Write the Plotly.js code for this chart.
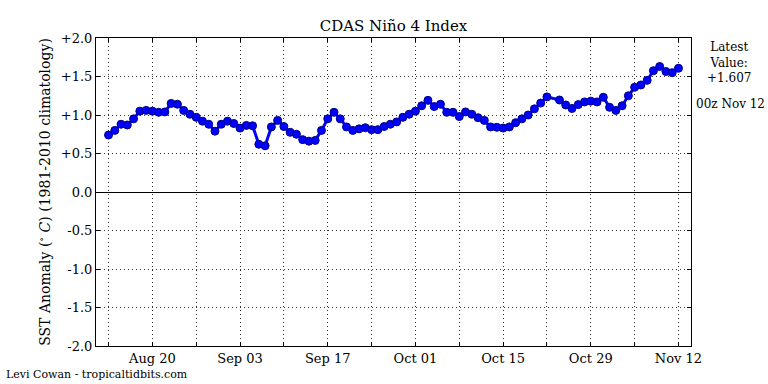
<!DOCTYPE html>
<html>
<head>
<meta charset="utf-8">
<script src="https://cdn.plot.ly/plotly-3.0.1.min.js"></script>
<style>html,body{margin:0;padding:0;background:#fff;}#chart{width:768px;height:384px;}</style>
</head>
<body>
<div id="chart"></div>
<script>
// Daily CDAS Niño 4 SST anomaly, starting 2015-08-13 (null = missing day)
const startDate = '2015-08-13';
const anomaly = [
  0.74, 0.80, 0.88, 0.87, 0.95, 1.05, 1.06, 1.05, 1.035, 1.04,
  1.15, 1.14, 1.06, 1.01, 0.97, 0.92, 0.88, 0.79, 0.88, 0.92,
  0.89, 0.83, 0.865, 0.86, 0.62, 0.60, 0.845, 0.93, 0.85, 0.775,
  0.75, 0.68, 0.66, 0.67, 0.80, 0.95, 1.035, 0.95, 0.845, 0.80,
  0.82, 0.835, 0.81, 0.81, 0.85, 0.88, 0.91, 0.97, 1.01, 1.05,
  1.12, 1.19, 1.11, 1.14, 1.035, 1.035, 0.98, 1.04, 1.01, 0.965,
  0.93, 0.845, 0.84, 0.83, 0.845, 0.90, 0.95, 1.00, 1.08, 1.155,
  1.235, null, 1.195, 1.13, 1.085, 1.135, 1.17, 1.18, 1.17, 1.23,
  1.10, 1.06, 1.12, 1.25, 1.36, 1.39, 1.45, 1.575, 1.63, 1.565,
  1.55, 1.607
];
const xTickVals = ['2015-08-13','2015-08-20','2015-08-27','2015-09-03','2015-09-10','2015-09-17','2015-09-24',
                   '2015-10-01','2015-10-08','2015-10-15','2015-10-22','2015-10-29','2015-11-05','2015-11-12'];
const xTickText = [' ','Aug 20',' ','Sep 03',' ','Sep 17',' ','Oct 01',' ','Oct 15',' ','Oct 29',' ','Nov 12'];
const yTickVals = [2.0, 1.5, 1.0, 0.5, 0.0, -0.5, -1.0, -1.5, -2.0];
const yTickText = ['+2.0','+1.5','+1.0','+0.5','0.0','-0.5','-1.0','-1.5','-2.0'];
const latestValue = '+1.607';
const latestTime = '00z Nov 12';

const dates = anomaly.map((_, i) => {
  const d = new Date(startDate + 'T00:00:00Z');
  d.setUTCDate(d.getUTCDate() + i);
  return d.toISOString().slice(0, 10);
});

const font = "'DejaVu Serif', 'Liberation Serif', serif";

const trace = {
  x: dates, y: anomaly, type: 'scatter', mode: 'lines+markers',
  connectgaps: true,
  line: {color: '#0000ff', width: 3},
  marker: {color: '#0000ff', size: 8, line: {color: '#000080', width: 1}},
  hoverinfo: 'skip'
};

const layout = {
  width: 768, height: 384,
  margin: {l: 96, r: 77, t: 38, b: 38, pad: 0},
  paper_bgcolor: '#fff', plot_bgcolor: '#fff',
  font: {family: font, color: '#000', size: 12},
  showlegend: false,
  title: {text: 'CDAS Niño 4 Index', font: {family: font, size: 15, color: '#000'},
          x: 0.5124, xanchor: 'center', y: 0.932, yanchor: 'middle'},
  xaxis: {
    type: 'date', range: ['2015-08-11', '2015-11-14'],
    tickmode: 'array', tickvals: xTickVals, ticktext: xTickText,
    ticks: 'inside', ticklen: 4, tickcolor: '#000', tickwidth: 1,
    showline: true, linecolor: '#000', linewidth: 1, mirror: 'ticks',
    showgrid: true, gridcolor: '#333', gridwidth: 1, griddash: '1px,3px',
    zeroline: false, tickfont: {family: font, size: 13}
  },
  yaxis: {
    range: [-2, 2], tickmode: 'array', tickvals: yTickVals, ticktext: yTickText,
    ticks: 'inside', ticklen: 4, tickcolor: '#000', tickwidth: 1,
    showline: true, linecolor: '#000', linewidth: 1, mirror: 'ticks',
    showgrid: true, gridcolor: '#333', gridwidth: 1, griddash: '1px,3px',
    zeroline: true, zerolinecolor: '#000', zerolinewidth: 1,
    tickfont: {family: font, size: 13},
    title: {text: 'SST Anomaly (<sup>∘</sup> <i>C</i>) (1981-2010 climatology)',
            font: {family: font, size: 14}, standoff: 6}
  },
  annotations: [
    {text: 'Latest<br>Value:<br>' + latestValue, xref: 'paper', yref: 'paper',
     x: 1.064, y: 1.0, xanchor: 'center', yanchor: 'top', showarrow: false,
     font: {family: font, size: 12}, align: 'center'},
    {text: latestTime, xref: 'paper', yref: 'paper',
     x: 1.066, y: 0.785, xanchor: 'center', yanchor: 'middle', showarrow: false,
     font: {family: font, size: 12}},
    {text: 'Levi Cowan - tropicaltidbits.com', xref: 'paper', yref: 'paper',
     x: -0.155, y: -0.091, xanchor: 'left', yanchor: 'middle', showarrow: false,
     font: {family: font, size: 11}}
  ]
};

Plotly.newPlot('chart', [trace], layout, {staticPlot: true, displayModeBar: false});
</script>
</body>
</html>
